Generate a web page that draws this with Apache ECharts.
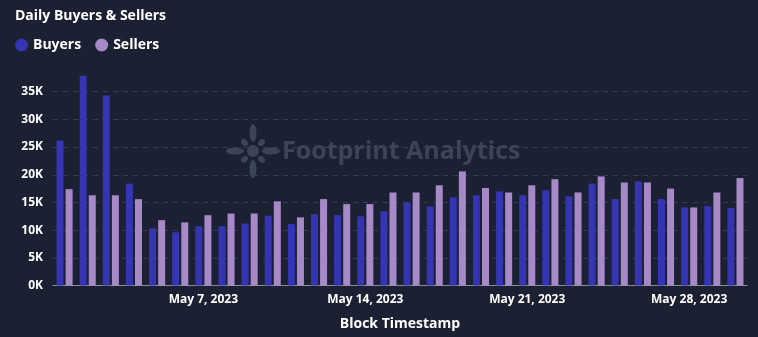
<!DOCTYPE html>
<html><head><meta charset="utf-8">
<style>html,body{margin:0;padding:0;background:#1b2133;}#c{width:758px;height:337px;}</style>
<script src="https://cdn.jsdelivr.net/npm/echarts@6/dist/echarts.min.js"></script>
</head><body><div id="c"></div>
<script>
var categories = [];
for (var d = 1; d <= 30; d++) categories.push('May ' + d + ', 2023');
var buyers = [26.2,37.9,34.3,18.4,10.3,9.6,10.7,10.7,11.2,12.6,11.1,12.9,12.7,12.5,13.4,15.0,14.3,15.9,16.3,17.0,16.3,17.2,16.1,18.4,15.6,18.8,15.6,14.1,14.3,14.0].map(function(v){return v*1000;});
var sellers = [17.4,16.3,16.3,15.6,11.8,11.4,12.7,13.0,13.0,15.2,12.3,15.6,14.7,14.7,16.8,16.8,18.1,20.6,17.6,16.8,18.1,19.2,16.8,19.7,18.6,18.6,17.5,14.1,16.8,19.4].map(function(v){return v*1000;});
var yTicks = [0,5000,10000,15000,20000,25000,30000,35000];

var chart = echarts.init(document.getElementById('c'));
var petals = [];
var cx = 253, cy = 151;
for (var i = 0; i < 8; i++) {
  var a = i * Math.PI / 4;
  var big = (i % 2 === 0);
  var r = big ? 18 : 12;
  petals.push({type:'ellipse', shape:{cx:0, cy:0, rx: big?9:4, ry: big?3.5:3}, x: cx + r*Math.cos(a), y: cy + r*Math.sin(a), rotation: -a, style:{fill:'#3b4458'}, silent:true, z:-1});
}
petals.push({type:'circle', shape:{cx:cx, cy:cy, r:6}, style:{fill:'#3b4458'}, silent:true, z:-1});
petals.push({type:'text', left:282, top:139, style:{text:'Footprint Analytics', fill:'#3b4458', font:'bold 25px "Open Sans", sans-serif'}, silent:true, z:-1});

chart.setOption({
  backgroundColor:'#1b2133',
  textStyle:{fontFamily:'"Open Sans", "Noto Sans", sans-serif'},
  title:{text:'Daily Buyers & Sellers', left:10, top:4, textStyle:{color:'#ffffff', fontSize:14, fontWeight:'bold', fontFamily:'"Open Sans", sans-serif'}},
  legend:{left:10, top:33, itemWidth:13, itemHeight:13, icon:'circle', itemGap:14,
    textStyle:{color:'#ffffff', fontSize:14, fontWeight:'bold', fontFamily:'"Open Sans", sans-serif'},
    data:['Buyers','Sellers']},
  graphic: petals,
  grid:{left:53, right:11, top:91.7, bottom:51.5},
  xAxis:{type:'category', data:categories,
    name:'Block Timestamp', nameLocation:'middle', nameGap:32,
    nameTextStyle:{color:'#ffffff', fontSize:14, fontWeight:'bold'},
    axisLine:{lineStyle:{color:'#8a8f9c'}},
    axisTick:{show:false},
    axisLabel:{color:'#ffffff', fontSize:12, fontWeight:'bold', margin:8,
      interval:function(idx){return idx % 7 === 6;}}},
  yAxis:{type:'value', min:0, max:35000, interval:5000,
    axisLabel:{color:'#ffffff', fontSize:12, fontWeight:'bold', margin:10,
      formatter:function(v){return (v/1000)+'K';}},
    axisLine:{show:false}, axisTick:{show:false},
    splitLine:{lineStyle:{color:'#363e52', type:[5,5], width:1}}},
  series:[
    {name:'Buyers', type:'bar', data:buyers, barWidth:7, barGap:'30%', clip:false, itemStyle:{color:'#3535b3'}},
    {name:'Sellers', type:'bar', data:sellers, barWidth:7, barGap:'30%', clip:false, itemStyle:{color:'#a789c8'}}
  ]
});
</script></body></html>
